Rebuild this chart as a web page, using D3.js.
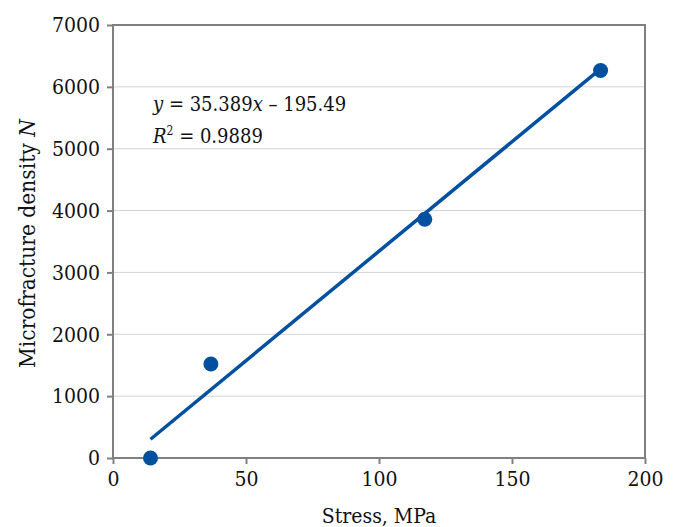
<!DOCTYPE html>
<html lang="en">
<head>
  <meta charset="UTF-8">
  <title>Microfracture density vs stress</title>
  <script src="https://d3js.org/d3.v7.min.js"></script>
  <style>
    body { margin: 0; background: #fff; }
    svg text { font-family: "DejaVu Serif Condensed", "DejaVu Serif", serif; font-stretch: condensed; fill: #111; }
  </style>
</head>
<body>
  <svg width="677" height="527"></svg>
  <script>
    // data
    const stress = [14.1, 36.8, 117.2, 183.3];
    const density = [0, 1520, 3860, 6265];
    const xTicks = [0, 50, 100, 150, 200];
    const yTicks = [0, 1000, 2000, 3000, 4000, 5000, 6000, 7000];
    const fit = { slope: 35.389, intercept: -195.49, r2: 0.9889 };

    const margin = { top: 25, right: 32, bottom: 69, left: 113 },
      width = 677 - margin.left - margin.right,
      height = 527 - margin.top - margin.bottom;

    const svg = d3.select("svg");
    const g = svg.append("g").attr("transform", `translate(${margin.left},${margin.top})`);

    const x = d3.scaleLinear().domain([0, 200]).range([0, width]);
    const y = d3.scaleLinear().domain([0, 7000]).range([height, 0]);
    const blue = "#0050a0";
    const axisGrey = "#808080";

    // gridlines
    g.selectAll(".grid")
      .data(yTicks.filter(d => d > 0 && d < 7000))
      .enter().append("line")
      .attr("x1", 0).attr("x2", width)
      .attr("y1", d => y(d)).attr("y2", d => y(d))
      .attr("stroke", "#d4d4d4").attr("stroke-width", 1);

    // frame
    g.append("rect")
      .attr("width", width).attr("height", height)
      .attr("fill", "none").attr("stroke", axisGrey).attr("stroke-width", 2);

    const yAxis = g.append("g")
      .call(d3.axisLeft(y).tickValues(yTicks).tickSize(6).tickPadding(7).tickFormat(d3.format("d")));
    const xAxis = g.append("g")
      .attr("transform", `translate(0,${height})`)
      .call(d3.axisBottom(x).tickValues(xTicks).tickSize(6).tickPadding(7));
    [xAxis, yAxis].forEach(a => {
      a.attr("font-family", null);
      a.select(".domain").remove();
      a.selectAll(".tick line").attr("stroke", axisGrey).attr("stroke-width", 2);
      a.selectAll("text").attr("fill", null).style("font-size", "21px");
    });

    // regression line
    const xr = d3.extent(stress);
    g.append("line")
      .attr("x1", x(xr[0])).attr("y1", y(fit.slope * xr[0] + fit.intercept))
      .attr("x2", x(xr[1])).attr("y2", y(fit.slope * xr[1] + fit.intercept))
      .attr("stroke", blue).attr("stroke-width", 3.5);

    // points
    g.selectAll(".pt")
      .data(stress.map((s, i) => [s, density[i]]))
      .enter().append("circle")
      .attr("cx", d => x(d[0])).attr("cy", d => y(d[1]))
      .attr("r", 7.5).attr("fill", blue);

    // equation
    const eq = g.append("text").attr("x", 40).attr("y", 86)
      .style("font-size", "20px");
    eq.append("tspan").style("font-style", "italic").text("y");
    eq.append("tspan").text(` = ${fit.slope}`);
    eq.append("tspan").style("font-style", "italic").text("x");
    eq.append("tspan").text(` \u2013 ${Math.abs(fit.intercept)}`);

    const r2 = g.append("text").attr("x", 40).attr("y", 118)
      .style("font-size", "20px");
    r2.append("tspan").style("font-style", "italic").text("R");
    r2.append("tspan").attr("dy", -8).style("font-size", "12px").text("2");
    r2.append("tspan").attr("dy", 8).text(` = ${fit.r2}`);

    // axis titles
    svg.append("text")
      .attr("x", margin.left + width / 2).attr("y", 523)
      .attr("text-anchor", "middle").style("font-size", "21px")
      .text("Stress, MPa");

    const yl = svg.append("text")
      .attr("transform", `translate(35,${margin.top + height / 2 + 2}) rotate(-90)`)
      .attr("text-anchor", "middle").style("font-size", "22.5px");
    yl.append("tspan").text("Microfracture density ");
    yl.append("tspan").style("font-style", "italic").text("N");
  </script>
</body>
</html>
